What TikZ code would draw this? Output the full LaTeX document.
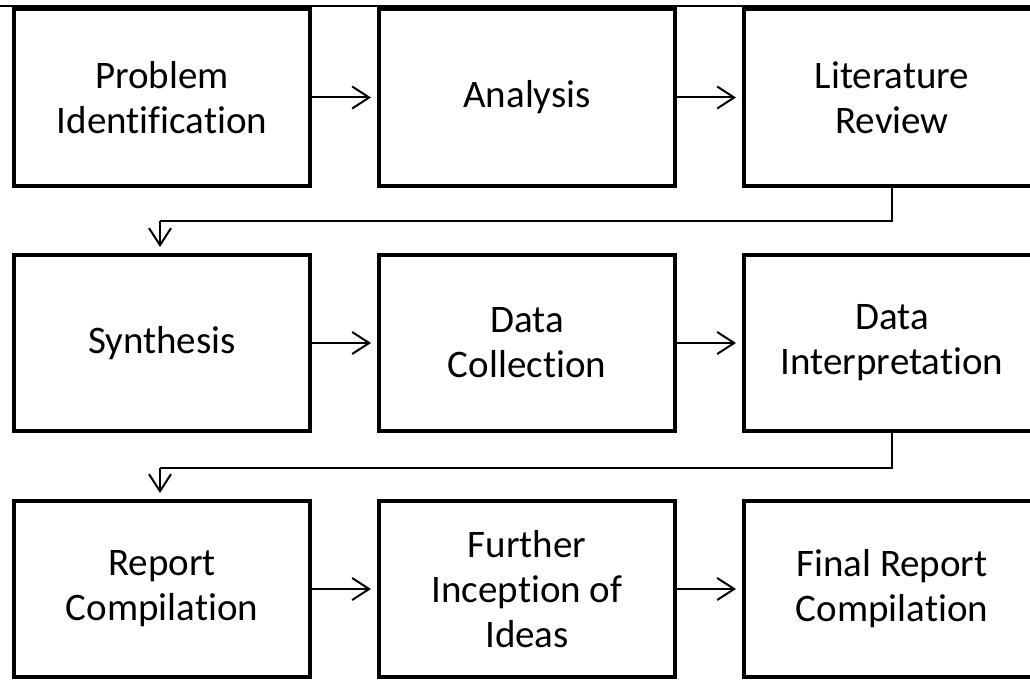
\documentclass[tikz,border=0pt]{standalone}
\usepackage{fontspec}
\setmainfont{Carlito}[Ligatures=NoCommon]
\usetikzlibrary{arrows.meta}
\begin{document}
\begin{tikzpicture}[x=1pt,y=-1pt,
  stepbox/.style={draw=black, line width=4pt, rectangle, minimum width=296pt,
    minimum height=176pt, align=center, inner sep=0pt,
    font=\fontsize{39}{45}\selectfont},
  flow/.style={line width=2pt, -{Straight Barb[length=17pt,width=22pt,line width=2pt]}, shorten >=6pt},
  link/.style={line width=2pt}]
\useasboundingbox (0,0) rectangle (1030,682);
% thin rule along the top edge
\draw[line width=1.5pt] (0,6) -- (1030,6);
% row 1
\node[stepbox] (prob) at (162,97.5) {Problem\\Identification};
\node[stepbox] (ana)  at (527,97.5) {Analysis};
\node[stepbox] (lit)  at (892,97.5) {Literature\\Review};
% row 2
\node[stepbox] (syn)  at (162,343) {Synthesis};
\node[stepbox] (dcol) at (527,343) {Data\\Collection};
\node[stepbox] (dint) at (892,343) {Data\\Interpretation};
% row 3
\node[stepbox] (rep)  at (162,589) {Report\\Compilation};
\node[stepbox] (fur)  at (527,589) {Further\\Inception of\\Ideas};
\node[stepbox] (fin)  at (892,589) {Final Report\\Compilation};
% arrows within each row
\draw[flow] (prob.east) -- (ana.west);
\draw[flow] (ana.east) -- (lit.west);
\draw[flow] (syn.east) -- (dcol.west);
\draw[flow] (dcol.east) -- (dint.west);
\draw[flow] (rep.east) -- (fur.west);
\draw[flow] (fur.east) -- (fin.west);
% returns to the start of the next row
\coordinate (k1) at (160,221);
\coordinate (k2) at (160,468);
\draw[link] (lit.south) |- (k1);
\draw[flow] (k1) -- (syn.north -| k1);
\draw[link] (dint.south) |- (k2);
\draw[flow] (k2) -- (rep.north -| k2);
\end{tikzpicture}
\end{document}
